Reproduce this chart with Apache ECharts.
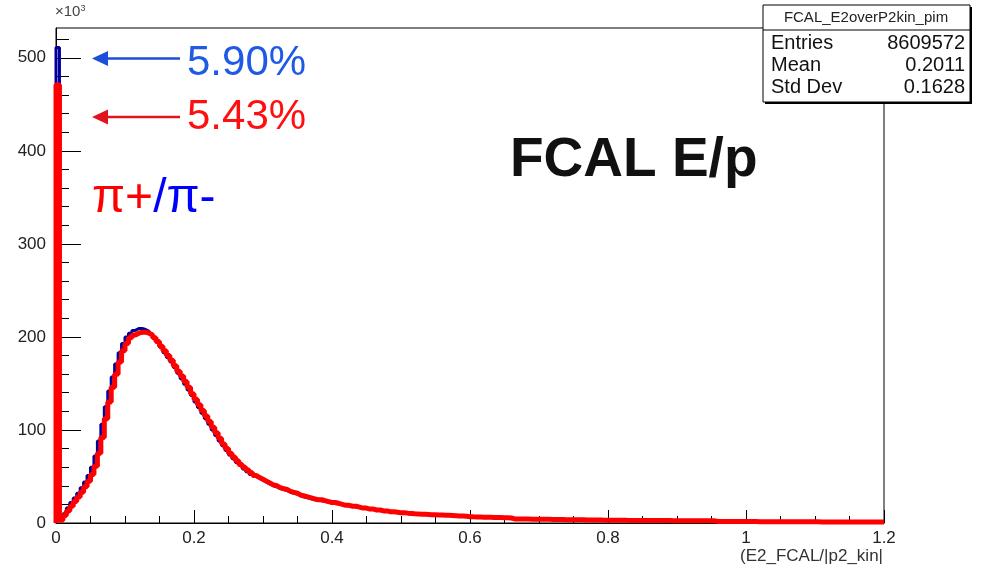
<!DOCTYPE html>
<html><head><meta charset="utf-8">
<script src="https://cdn.jsdelivr.net/npm/echarts@6/dist/echarts.min.js"></script>
<style>html,body{margin:0;padding:0;background:#fff}#c{width:987px;height:577px}</style>
</head><body><div id="c"></div>
<script>
// ---- data (counts in units of 10^3), bin width 0.005 starting at 0 ----
const binWidth = 0.005;
const xMin = 0, xMax = 1.2;
const yMin = 0, yMax = 532;
const xTickValues = [0, 0.2, 0.4, 0.6, 0.8, 1, 1.2];
const xTickLabels = ['0', '0.2', '0.4', '0.6', '0.8', '1', '1.2'];
const yTickValues = [0, 100, 200, 300, 400, 500];
const yTickLabels = ['0', '100', '200', '300', '400', '500'];
const yMinorValues = [20,40,60,80,120,140,160,180,220,240,260,280,320,340,360,380,420,440,460,480,520];

// pi- (blue)
const piMinusCounts = [
511,4,10,16,22,27,32,38,44,51,
60,72,88,106,125,142,157,171,183,193,
200,204,207,209,209,208,206,203,199,194,
189,183,178,173,167,161,155,149,143,137,
130,124,118,112,106,100,94,88,83,78,
73,69,65,62,58,55,52,50,48,46,
44,42,40,39,37,36,35,33,32,31,
29,28,27,26,25,24.5,24,23,22.5,22,
21,20.5,20,19,18.5,18,17.5,17,16,15.5,
15,14.5,14,13.5,13,12.5,12,11.7,11.3,11,
10.7,10.4,10.1,9.9,9.6,9.4,9.2,9.0,8.8,8.7,
8.5,8.4,8.2,8.0,7.8,7.6,7.4,7.2,7.0,6.8,
6.6,6.5,6.4,6.3,6.2,6.1,6.0,5.9,5.8,5.7,
5.6,5.4,4.4,4.3,4.3,4.2,4.2,4.1,4.1,4.0,
4.0,3.9,3.9,3.8,3.8,3.7,3.7,3.6,3.6,3.5,
3.5,3.4,3.4,3.3,3.3,3.2,3.2,3.1,3.0,3.0,
3.0,2.9,2.9,2.9,2.9,2.8,2.8,2.8,2.8,2.7,
2.7,2.7,2.7,2.6,2.6,2.6,2.6,2.6,2.5,2.5,
2.5,2.5,2.5,2.4,2.4,2.4,2.4,2.4,2.3,2.3,
2.3,1.6,1.6,1.6,1.6,1.6,1.5,1.5,1.5,1.5,
1.5,1.5,1.5,1.4,1.4,1.4,1.4,1.4,1.4,1.4,
1.4,1.3,1.3,1.3,1.3,1.3,1.3,1.3,1.3,1.3,
1.3,1.2,1.2,1.2,1.2,1.2,1.2,1.2,1.2,1.2,
1.2,1.2,1.1,1.1,1.1,1.1,1.1,1.1,1.1,1.1
];
// pi+ (red)
const piPlusCounts = [
471,3,8,13,18,23,28,33,39,45,
52,61,75,92,112,130,146,160,173,185,
193,199,202,204,205,205,204,202,199,195,
190,185,180,175,169,163,158,152,146,139,
133,127,121,115,109,103,97,91,85,80,
75,71,67,63,60,57,54,51,49,47,
45,43,41,40,38,37,36,34,33,32,
30,29,28,27,26,25,25,24,23,22,
22,21,20,19,19,18,18,17,16,16,
15,15,14,14,13,13,12,12,11.5,11,
11,10.6,10.3,10,9.8,9.5,9.3,9.1,8.9,8.8,
8.7,8.6,8.4,8.2,8.0,7.8,7.6,7.4,7.2,6.8,
6.6,6.5,6.4,6.3,6.2,6.1,6.0,5.9,5.8,5.7,
5.6,5.4,4.4,4.3,4.3,4.2,4.2,4.1,4.1,4.0,
4.0,3.9,3.9,3.8,3.8,3.7,3.7,3.6,3.6,3.5,
3.5,3.4,3.4,3.3,3.3,3.2,3.2,3.1,3.0,3.0,
3.0,2.9,2.9,2.9,2.9,2.8,2.8,2.8,2.8,2.7,
2.7,2.7,2.7,2.6,2.6,2.6,2.6,2.6,2.5,2.5,
2.5,2.5,2.5,2.4,2.4,2.4,2.4,2.4,2.3,2.3,
2.3,1.6,1.6,1.6,1.6,1.6,1.5,1.5,1.5,1.5,
1.5,1.5,1.5,1.4,1.4,1.4,1.4,1.4,1.4,1.4,
1.4,1.3,1.3,1.3,1.3,1.3,1.3,1.3,1.3,1.3,
1.3,1.2,1.2,1.2,1.2,1.2,1.2,1.2,1.2,1.2,
1.2,1.2,1.1,1.1,1.1,1.1,1.1,1.1,1.1,1.1
];
const statsTitle = 'FCAL_E2overP2kin_pim';
const statsLabels = ['Entries', 'Mean', 'Std Dev'];
const statsValues = ['8609572', '0.2011', '0.1628'];
const xAxisTitle = '(E2_FCAL/|p2_kin|';
const fracPiMinus = '5.90%';
const fracPiPlus = '5.43%';
const plotTitle = 'FCAL E/p';

// ---- build step-histogram points ----
function histPoints(counts) {
  const pts = [[xMin, 0]];
  counts.forEach((v, i) => pts.push([xMin + i * binWidth, v]));
  pts.push([xMin + counts.length * binWidth, counts[counts.length - 1]]);
  return pts;
}

const FONT = '"Liberation Sans", Arial, sans-serif';
const chart = echarts.init(document.getElementById('c'), null, {renderer: 'canvas'});

const xMinorValues = [];
for (let i = 1; i < 24; i++) if (i % 4 !== 0) xMinorValues.push(+(i * 0.05).toFixed(2));

const option = {
  animation: false,
  backgroundColor: '#fff',
  grid: {left: 56, right: 103, top: 28, bottom: 54, show: true, borderColor: '#000', borderWidth: 1, backgroundColor: 'transparent'},
  xAxis: [{
    type: 'value', min: xMin, max: xMax,
    axisLine: {show: true, onZero: false, lineStyle: {color: '#000', width: 1}},
    axisTick: {show: true, inside: true, length: 13, lineStyle: {color: '#000'}, customValues: xTickValues},
    axisLabel: {show: true, margin: 7, color: '#222', fontFamily: FONT, fontSize: 17,
      customValues: xTickValues,
      formatter: v => { const k = xTickValues.findIndex(t => Math.abs(t - v) < 1e-9); return k >= 0 ? xTickLabels[k] : ''; }},
    splitLine: {show: false}
  }, {
    type: 'value', min: xMin, max: xMax, position: 'bottom',
    axisLine: {show: false},
    axisTick: {show: true, inside: true, length: 7, lineStyle: {color: '#000'}, customValues: xMinorValues},
    axisLabel: {show: false},
    splitLine: {show: false}
  }],
  yAxis: [{
    type: 'value', min: yMin, max: yMax,
    axisLine: {show: true, onZero: false, lineStyle: {color: '#000', width: 1}},
    axisTick: {show: true, inside: true, length: 25, lineStyle: {color: '#000'}, customValues: yTickValues},
    axisLabel: {show: true, margin: 10, color: '#222', fontFamily: FONT, fontSize: 17,
      customValues: yTickValues,
      formatter: v => { const k = yTickValues.indexOf(Math.round(v)); return k >= 0 ? yTickLabels[k] : ''; }},
    splitLine: {show: false}
  }, {
    type: 'value', min: yMin, max: yMax, position: 'left',
    axisLine: {show: false},
    axisTick: {show: true, inside: true, length: 13, lineStyle: {color: '#000'}, customValues: yMinorValues},
    axisLabel: {show: false},
    splitLine: {show: false}
  }],
  series: [{
    name: 'pi-', type: 'line', step: 'end', symbol: 'none', xAxisIndex: 0, yAxisIndex: 0,
    data: histPoints(piMinusCounts),
    lineStyle: {color: '#00009c', width: 3}, z: 2
  }, {
    name: 'pi+', type: 'line', step: 'end', symbol: 'none', xAxisIndex: 0, yAxisIndex: 0,
    data: histPoints(piPlusCounts),
    lineStyle: {color: '#ff0000', width: 5}, z: 3
  }],
  graphic: [
    // x10^3
    {type: 'text', x: 55, y: 4, z: 100, style: {text: '×10{s|3}', fill: '#444', font: '15px ' + FONT,
      rich: {s: {fontSize: 9, verticalAlign: 'top', fill: '#444', fontFamily: FONT, padding: [0,0,6,0]}}}},
    // x axis title
    {type: 'text', x: 883, y: 556, z: 100, style: {text: xAxisTitle, fill: '#333', font: '17px ' + FONT, align: 'right', verticalAlign: 'middle'}},
    // stats box shadow + box
    {type: 'rect', z: 99, shape: {x: 765, y: 7, width: 207, height: 97}, style: {fill: '#000'}},
    {type: 'rect', z: 100, shape: {x: 763, y: 5, width: 207, height: 97}, style: {fill: '#fff', stroke: '#000', lineWidth: 1}},
    {type: 'line', z: 101, shape: {x1: 763, y1: 30, x2: 970, y2: 30}, style: {stroke: '#000', lineWidth: 1}},
    {type: 'text', x: 866, y: 17.5, z: 101, style: {text: statsTitle, fill: '#222', font: '15px ' + FONT, align: 'center', verticalAlign: 'middle'}},
    ...statsLabels.map((t, i) => ({type: 'text', x: 771, y: 43.5 + i * 22, z: 101, style: {text: t, fill: '#111', font: '20px ' + FONT, align: 'left', verticalAlign: 'middle'}})),
    ...statsValues.map((t, i) => ({type: 'text', x: 965, y: 43.5 + i * 22, z: 101, style: {text: t, fill: '#111', font: '20px ' + FONT, align: 'right', verticalAlign: 'middle'}})),
    // blue arrow
    {type: 'line', z: 100, shape: {x1: 180, y1: 58.5, x2: 104, y2: 58.5}, style: {stroke: '#1c4fd8', lineWidth: 2.5}},
    {type: 'polygon', z: 100, shape: {points: [[92, 58.5], [108, 51], [108, 66]]}, style: {fill: '#1c4fd8'}},
    {type: 'text', x: 187, y: 63, z: 100, style: {text: fracPiMinus, fill: '#1e5ae6', font: '42px ' + FONT, align: 'left', verticalAlign: 'middle'}},
    // red arrow
    {type: 'line', z: 100, shape: {x1: 180, y1: 117, x2: 104, y2: 117}, style: {stroke: '#e0141e', lineWidth: 2.5}},
    {type: 'polygon', z: 100, shape: {points: [[92, 117], [108, 109.5], [108, 124.5]]}, style: {fill: '#e0141e'}},
    {type: 'text', x: 187, y: 117.5, z: 100, style: {text: fracPiPlus, fill: '#ff1010', font: '42px ' + FONT, align: 'left', verticalAlign: 'middle'}},
    // pi+/pi-
    {type: 'text', x: 92, y: 199, z: 100, style: {text: '{r|π+}{b|/π-}', font: '48px ' + FONT, verticalAlign: 'middle',
      rich: {r: {fill: '#ff0000', fontSize: 48, fontFamily: FONT}, b: {fill: '#0000ff', fontSize: 48, fontFamily: FONT}}}},
    // title
    {type: 'text', x: 510, y: 161, z: 100, style: {text: plotTitle, fill: '#111', font: 'bold 55px ' + FONT, align: 'left', verticalAlign: 'middle'}}
  ]
};
chart.setOption(option);
</script>
</body></html>
